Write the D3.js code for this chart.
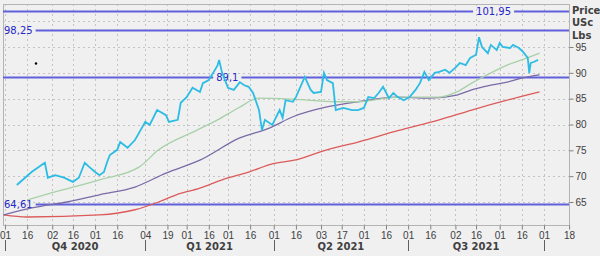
<!DOCTYPE html>
<html>
<head>
<meta charset="utf-8">
<script src="https://cdn.jsdelivr.net/npm/d3@7"></script>
<style>
  body { margin: 0; background: #f0f0f0; }
  svg { display: block; font-family: "DejaVu Sans", sans-serif; }
</style>
</head>
<body>
<svg id="chart" width="600" height="256"></svg>
<script>
var width = 600, height = 256
var plot = { left: 3, top: 4, right: 569, bottom: 225 }

// price (USc/Lbs)
var priceDates = ["2020-10-09","2020-10-19","2020-10-26","2020-10-28","2020-10-30","2020-11-04","2020-11-10","2020-11-16",
  "2020-11-20","2020-11-24","2020-11-27","2020-12-01","2020-12-04","2020-12-07","2020-12-09","2020-12-11","2020-12-16",
  "2020-12-18","2020-12-23","2020-12-28","2020-12-30","2021-01-04","2021-01-07","2021-01-12","2021-01-18","2021-01-20",
  "2021-01-26","2021-01-28","2021-02-01","2021-02-05","2021-02-10","2021-02-12","2021-02-16","2021-02-19","2021-02-22",
  "2021-02-23","2021-02-25","2021-03-01","2021-03-05","2021-03-09","2021-03-12","2021-03-15","2021-03-18","2021-03-22",
  "2021-03-24","2021-03-26","2021-03-31","2021-04-05","2021-04-07","2021-04-09","2021-04-14","2021-04-16","2021-04-22",
  "2021-04-26","2021-04-28","2021-05-03","2021-05-05","2021-05-07","2021-05-11","2021-05-13","2021-05-18","2021-05-24",
  "2021-05-28","2021-06-01","2021-06-04","2021-06-08","2021-06-11","2021-06-14","2021-06-18","2021-06-21","2021-06-24",
  "2021-06-28","2021-07-02","2021-07-06","2021-07-09","2021-07-12","2021-07-15","2021-07-19","2021-07-22","2021-07-26",
  "2021-07-29","2021-08-02","2021-08-05","2021-08-09","2021-08-12","2021-08-16","2021-08-18","2021-08-20","2021-08-24",
  "2021-08-26","2021-08-30","2021-09-01","2021-09-03","2021-09-08","2021-09-10","2021-09-14","2021-09-17","2021-09-20",
  "2021-09-21","2021-09-22","2021-09-24","2021-09-27"]
var priceValues = [68.3,70.8,72.2,72.6,69.7,70.2,69.7,68.9,
  69.7,72.6,71.8,70.8,70.2,70.8,72.6,74.1,75.1,
  76.6,75.5,77.0,78.0,80.5,79.9,82.8,81.8,80.5,
  80.9,84.2,85.3,87.1,86.3,88.0,88.6,90.0,91.5,
  92.5,90.0,87.1,86.7,88.2,87.6,87.3,86.1,82.8,
  78.9,80.9,79.9,82.8,81.3,84.7,84.4,85.3,89.2,
  86.7,86.1,86.3,90.0,88.6,88.0,82.8,83.2,82.8,
  82.8,83.2,85.3,85.1,86.1,87.3,85.1,86.1,85.3,
  84.7,85.3,86.7,88.0,90.2,88.6,90.0,90.2,90.6,
  90.0,91.0,91.9,91.5,92.9,93.5,96.9,95.0,93.8,
  95.4,94.4,95.8,95.0,94.8,95.4,94.8,94.0,92.9,
  90.0,91.9,92.1,92.5]

// moving averages
var ma1Dates = ["2020-10-16","2020-11-02","2020-12-04","2020-12-31","2021-01-13","2021-02-08","2021-02-22","2021-03-08",
  "2021-03-22","2021-04-14","2021-05-13","2021-05-28","2021-06-24","2021-07-22","2021-08-03","2021-08-13","2021-08-26",
  "2021-09-06","2021-09-16","2021-09-28"]
var ma1Values = [65.4,66.8,69.3,71.8,75.1,78.9,80.9,83.2,85.1,84.9,84.4,84.4,85.3,85.3,86.3,88.0,90.0,91.5,92.5,93.8]

var ma2Dates = ["2020-09-30","2020-10-20","2020-11-12","2020-12-04","2020-12-28","2021-01-18","2021-02-10","2021-03-09",
  "2021-03-29","2021-04-14","2021-05-07","2021-05-28","2021-06-24","2021-07-15","2021-08-03","2021-08-13","2021-08-26",
  "2021-09-06","2021-09-16","2021-09-28"]
var ma2Values = [62.5,63.9,65.0,66.4,67.9,70.6,73.1,77.4,79.3,81.5,83.4,84.4,85.3,85.1,85.7,86.7,87.6,88.2,89.0,89.6]

var ma3Dates = ["2020-09-30","2020-10-16","2020-12-04","2020-12-28","2021-01-13","2021-01-25","2021-02-10","2021-02-25",
  "2021-03-15","2021-03-31","2021-04-15","2021-05-07","2021-05-28","2021-06-24","2021-07-22","2021-08-13","2021-09-06",
  "2021-09-28"]
var ma3Values = [62.5,62.1,62.5,63.5,65.0,66.4,67.7,69.3,70.8,72.4,73.1,75.1,76.6,78.8,80.9,82.8,84.7,86.3]

var levels = [101.95, 98.25, 89.1, 64.61]
var levelLabels = ["101,95", "98,25", "89,1", "64,61"]
var levelLabelDates = ["2021-08-16", "2020-09-30", "2021-02-21", "2020-09-30"]

var yTicks = [65, 70, 75, 80, 85, 90, 95]
var yGrid = [65, 70, 75, 80, 85, 90, 95, 100]
var tickDates = ["2020-10-01","2020-10-16","2020-11-02","2020-11-16","2020-12-01","2020-12-16","2021-01-04","2021-01-19",
  "2021-02-01","2021-02-16","2021-03-01","2021-03-16","2021-04-01","2021-04-16","2021-05-03","2021-05-17","2021-06-01",
  "2021-06-16","2021-07-01","2021-07-16","2021-08-02","2021-08-16","2021-09-01","2021-09-16","2021-10-01","2021-10-18"]
var quarterStarts = ["2020-10-01","2021-01-04","2021-04-01","2021-07-01","2021-10-01"]
var quarterLabels = ["Q4 2020", "Q1 2021", "Q2 2021", "Q3 2021"]
var unitLabels = ["Price", "USc", "Lbs"]

var parse = d3.timeParse("%Y-%m-%d")

var x = d3.scaleTime()
    .domain([parse("2020-10-01"), parse("2021-10-01")])
    .range([5, 544])
var y = d3.scaleLinear()
    .domain([65, 95])
    .range([202, 47])

var svg = d3.select("#chart")

svg.append("rect").attr("width", width).attr("height", height).attr("fill", "#f0f0f0")

svg.append("defs").append("clipPath").attr("id", "clip")
    .append("rect")
    .attr("x", plot.left).attr("y", plot.top)
    .attr("width", plot.right - plot.left).attr("height", plot.bottom - plot.top)

// grid
var grid = svg.append("g").attr("clip-path", "url(#clip)")
grid.selectAll(".vgrid")
    .data(tickDates)
    .join("line")
    .attr("x1", d => Math.round(x(parse(d))) + 0.5)
    .attr("x2", d => Math.round(x(parse(d))) + 0.5)
    .attr("y1", plot.top).attr("y2", plot.bottom)
    .attr("stroke", "#c4c4c4")
    .attr("stroke-dasharray", "2,3")
grid.selectAll(".hgrid")
    .data(yGrid)
    .join("line")
    .attr("x1", plot.left).attr("x2", plot.right)
    .attr("y1", d => Math.round(y(d)) + 0.5)
    .attr("y2", d => Math.round(y(d)) + 0.5)
    .attr("stroke", "#c4c4c4")
    .attr("stroke-dasharray", "2,3")

// frame
svg.append("rect")
    .attr("x", plot.left + 0.5).attr("y", plot.top + 0.5)
    .attr("width", plot.right - plot.left).attr("height", plot.bottom - plot.top)
    .attr("fill", "none")
    .attr("stroke", "#b4b4b4")

var chart = svg.append("g").attr("clip-path", "url(#clip)")

var line = d3.line()
    .x(d => x(d[0]))
    .y(d => y(d[1]))

function pairs(dates, values) {
    return dates.map((d, i) => [parse(d), values[i]])
}

// level lines, broken around their labels
levels.forEach(function (lv, i) {
    var ly = Math.round(y(lv)) + 0.5
    var lx = Math.max(x(parse(levelLabelDates[i])), plot.left + 1)
    var label = chart.append("text")
        .attr("x", lx)
        .attr("y", ly)
        .attr("dy", "0.35em")
        .attr("font-size", "10px")
        .attr("fill", "#2626c8")
        .text(levelLabels[i])
    var w = label.node().getComputedTextLength()
    chart.append("line")
        .attr("x1", plot.left).attr("x2", lx - 3)
        .attr("y1", ly).attr("y2", ly)
        .attr("stroke", "#6060dc").attr("stroke-width", 2)
    chart.append("line")
        .attr("x1", lx + w + 3).attr("x2", plot.right)
        .attr("y1", ly).attr("y2", ly)
        .attr("stroke", "#6060dc").attr("stroke-width", 2)
})

chart.append("path")
    .datum(pairs(ma3Dates, ma3Values))
    .attr("d", line.curve(d3.curveMonotoneX))
    .attr("fill", "none").attr("stroke", "#dc5a5a").attr("stroke-width", 1.3)
chart.append("path")
    .datum(pairs(ma2Dates, ma2Values))
    .attr("d", line.curve(d3.curveMonotoneX))
    .attr("fill", "none").attr("stroke", "#7a6aa8").attr("stroke-width", 1.3)
chart.append("path")
    .datum(pairs(ma1Dates, ma1Values))
    .attr("d", line.curve(d3.curveMonotoneX))
    .attr("fill", "none").attr("stroke", "#a8d0a8").attr("stroke-width", 1.3)

chart.append("path")
    .datum(pairs(priceDates, priceValues))
    .attr("d", line.curve(d3.curveLinear))
    .attr("fill", "none").attr("stroke", "#2cbce4").attr("stroke-width", 1.8)
    .attr("stroke-linejoin", "miter")

// stray marker
chart.append("circle")
    .attr("cx", x(parse("2020-10-22"))).attr("cy", y(91.8))
    .attr("r", 1.2).attr("fill", "#000")

// right axis
var yAxis = svg.append("g")
    .attr("transform", "translate(" + (plot.right + 0.5) + ",0)")
    .call(d3.axisRight(y).tickValues(yTicks).tickSize(4).tickPadding(2))
yAxis.select(".domain").remove()
yAxis.selectAll("line").attr("stroke", "#808080")
yAxis.selectAll("text").attr("font-size", "10px").attr("fill", "#404040")

svg.selectAll(".unit")
    .data(unitLabels)
    .join("text")
    .attr("x", 572)
    .attr("y", (d, i) => 10 + i * 12.5)
    .attr("dy", "0.35em")
    .attr("font-size", "10px")
    .attr("font-weight", "bold")
    .attr("fill", "#404040")
    .text(d => d)

// bottom axis
var xAxis = svg.append("g")
    .attr("transform", "translate(0," + (plot.bottom + 0.5) + ")")
    .call(d3.axisBottom(x).tickValues(tickDates.map(parse)).tickFormat(d3.timeFormat("%d")).tickSize(4).tickPadding(2))
xAxis.select(".domain").remove()
xAxis.selectAll("line").attr("stroke", "#808080")
xAxis.selectAll("text").attr("font-size", "10px").attr("fill", "#404040")

svg.selectAll(".qsep")
    .data(quarterStarts)
    .join("line")
    .attr("x1", d => Math.round(x(parse(d))) + 0.5)
    .attr("x2", d => Math.round(x(parse(d))) + 0.5)
    .attr("y1", 240).attr("y2", 251)
    .attr("stroke", "#606060")

svg.selectAll(".qlabel")
    .data(quarterLabels)
    .join("text")
    .attr("x", (d, i) => (x(parse(quarterStarts[i])) + x(parse(quarterStarts[i + 1]))) / 2)
    .attr("y", 246)
    .attr("dy", "0.35em")
    .attr("text-anchor", "middle")
    .attr("font-size", "10px")
    .attr("font-weight", "bold")
    .attr("fill", "#404040")
    .text(d => d)
</script>
</body>
</html>
